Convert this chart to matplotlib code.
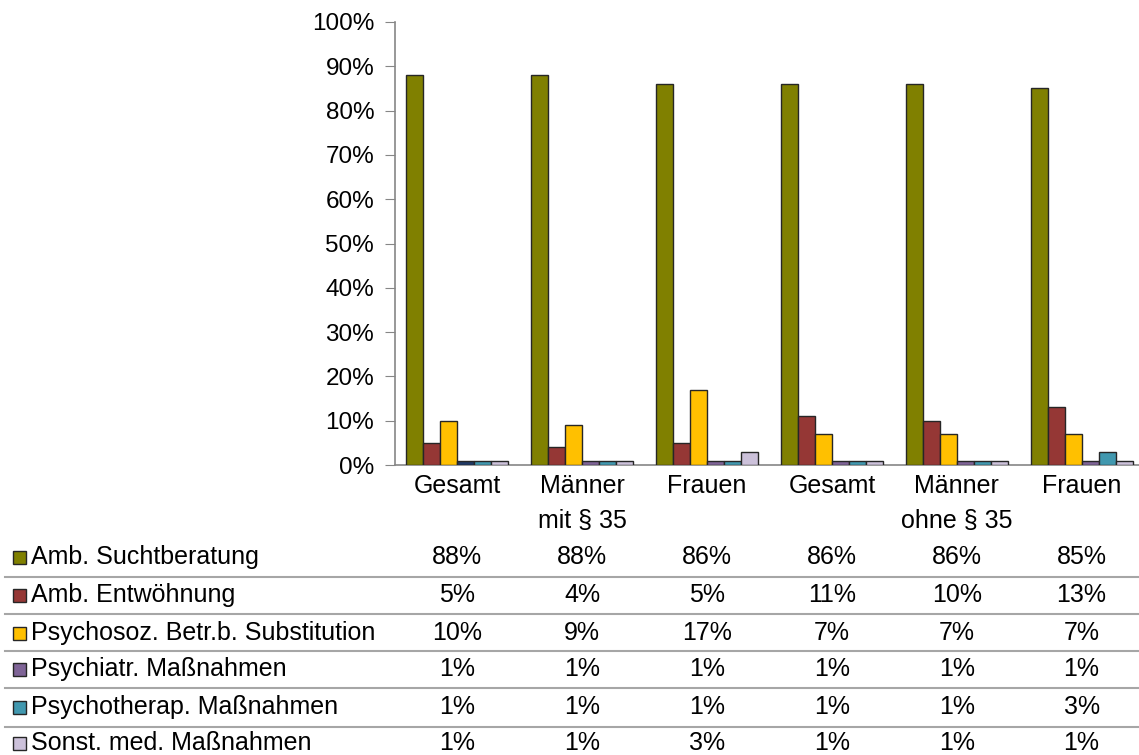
import matplotlib.pyplot as plt
from matplotlib.patches import Rectangle
from matplotlib.lines import Line2D
import matplotlib.transforms as mtransforms

plt.rcParams['font.family'] = ['Liberation Sans', 'DejaVu Sans']

# categories (two-level labels)
groups = ['Gesamt', 'Männer', 'Frauen', 'Gesamt', 'Männer', 'Frauen']
subgroups = ['', 'mit § 35', '', '', 'ohne § 35', '']

series_names = ['Amb. Suchtberatung', 'Amb. Entwöhnung',
                'Psychosoz. Betr.b. Substitution', 'Psychiatr. Maßnahmen',
                'Psychotherap. Maßnahmen', 'Sonst. med. Maßnahmen']

sucht = [88, 88, 86, 86, 86, 85]
entw = [5, 4, 5, 11, 10, 13]
psychosoz = [10, 9, 17, 7, 7, 7]
psychiatr = [1, 1, 1, 1, 1, 1]
psychotherap = [1, 1, 1, 1, 1, 3]
sonst = [1, 1, 3, 1, 1, 1]

colors = ['#808000', '#953735', '#FFC000', '#7F6497', '#4198AF', '#CCC1DA']

W, H = 1139, 755
FS = 18
fig = plt.figure(figsize=(W / 100, H / 100), dpi=100)
ax = fig.add_axes([395 / W, 1 - 465 / H, 749 / W, 443 / H])

all_series = [sucht, entw, psychosoz, psychiatr, psychotherap, sonst]
bw = 0.136
x = list(range(len(groups)))
for j, vals in enumerate(all_series):
    bars = ax.bar([i + (j - 2.5) * bw for i in x], vals, width=bw, color=colors[j],
                  edgecolor='#262626', linewidth=1.0, zorder=3)
    if j == 3:
        # first group's bar looks dark navy in the original
        bars[0].set_facecolor('#1F3864')

ax.set_xlim(-0.5, 5.5)
ax.set_ylim(0, 100)
ax.set_yticks(range(0, 101, 10))
ax.set_yticklabels([f'{v}%' for v in range(0, 101, 10)], fontsize=FS - 0.5)
ax.tick_params(axis='y', length=7, color='#868686', pad=8)
ax.set_xticks([])
for s in ['top', 'right']:
    ax.spines[s].set_visible(False)
for s in ['left', 'bottom']:
    ax.spines[s].set_color('#868686')
    ax.spines[s].set_linewidth(1.2)

# category labels below axis
trans = mtransforms.blended_transform_factory(ax.transData, fig.transFigure)
for i, (g, sg) in enumerate(zip(groups, subgroups)):
    fig.text(i, 1 - 486 / H, g, transform=trans, ha='center', va='center', fontsize=FS)
    if sg:
        fig.text(i, 1 - 521 / H, sg, transform=trans, ha='center', va='center', fontsize=FS)

# data table
row_y = [557, 595, 633, 669, 707, 743]
line_y = [577, 614, 651, 688, 727]
for yy in line_y:
    fig.add_artist(Line2D([5 / W, 1.0], [1 - yy / H] * 2, transform=fig.transFigure,
                          color='#a6a6a6', linewidth=1.5))
for j, (name, vals) in enumerate(zip(series_names, all_series)):
    yf = 1 - row_y[j] / H
    fig.add_artist(Rectangle((13 / W, yf - 7 / H), 13 / W, 13 / H, transform=fig.transFigure,
                             facecolor=colors[j], edgecolor='#262626', linewidth=1.0))
    fig.text(31 / W, yf, name, ha='left', va='center', fontsize=FS)
    for i, v in enumerate(vals):
        fig.text(i, yf, f'{v}%', transform=trans, ha='center', va='center', fontsize=FS)

fig.savefig('out.png', dpi=100)
